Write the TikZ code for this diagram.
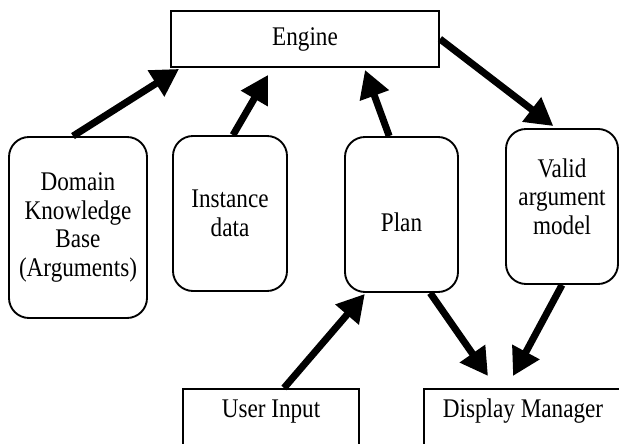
\documentclass[tikz,border=0pt]{standalone}
\usepackage{fontspec}
\setmainfont[FakeStretch=0.86]{Liberation Serif}
\usepackage{tikz}
\usetikzlibrary{arrows.meta, positioning, calc}
\tikzset{
    box/.style={rectangle, draw=black, line width=1.6pt, fill=white,
        align=center, font=\fontsize{23}{24.5}\selectfont},
    roundbox/.style={box, rounded corners=0.6cm},
    openbox/.style={box, anchor=north, inner ysep=0pt,
        text height=0.85cm, text depth=2.5cm},
    bigarrow/.style={line width=0.21cm, draw=black,
        -{Triangle[length=0.82cm, width=0.88cm]}},
}

\begin{document}
\begin{tikzpicture}
    \useasboundingbox (0,0) rectangle (18.57,13.32);
    \clip (0,0) rectangle (18.57,13.32);

    \node[box, minimum width=8.04cm, minimum height=1.68cm] (engine) at (9.15,12.15) {Engine};

    \node[roundbox, minimum width=4.14cm, minimum height=5.43cm] (dkb) at (2.34,6.495)
        {Domain\\Knowledge\\Base\\(Arguments)};
    \node[roundbox, minimum width=3.42cm, minimum height=4.65cm] (inst) at (6.9,6.915)
        {Instance\\data};
    \node[roundbox, minimum width=3.39cm, minimum height=4.65cm,
        text height=1.0cm, text depth=0pt] (plan) at (12.045,6.885) {Plan};
    \node[roundbox, minimum width=3.36cm, minimum height=4.65cm,
        text depth=0.6cm] (valid) at (16.86,7.125) {Valid\\argument\\model};

    \node[openbox, minimum width=5.28cm] (user) at (8.13,1.68) {User Input};
    \node[openbox, minimum width=5.94cm] (disp) at (15.69,1.68) {Display Manager};

    % inputs to the engine
    \draw[bigarrow] ($(dkb.north)+(-0.15,0)$) -- ($(engine.south west)+(0.27,-0.03)$);
    \draw[bigarrow] ($(inst.north)+(0.09,0)$) -- ($(engine.south)+(-1.11,-0.21)$);
    \draw[bigarrow] ($(plan.north)+(-0.37,0)$) -- ($(engine.south)+(1.8,-0.06)$);
    \draw[bigarrow] (engine.east) -- ($(valid.north)+(-0.26,0.06)$);

    % plan and output
    \draw[bigarrow] ($(user.north)+(0.39,0)$) -- ($(plan.south)+(-1.1,-0.03)$);
    \draw[bigarrow] ($(plan.south)+(0.86,0)$) -- ($(disp.north)+(-1.05,0.36)$);
    \draw[bigarrow] (valid.south) -- ($(disp.north)+(-0.3,0.36)$);
\end{tikzpicture}
\end{document}
